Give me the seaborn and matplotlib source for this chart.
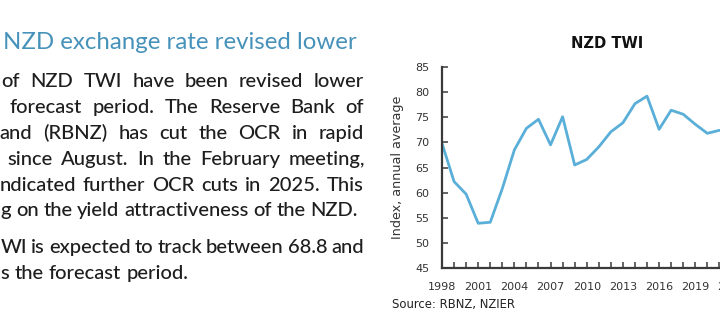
import matplotlib
matplotlib.use("Agg")
import matplotlib.pyplot as plt
import matplotlib.transforms as mtrans
from matplotlib.ticker import MultipleLocator, FixedLocator
import seaborn as sns
import pandas as pd

# ---------------- data ----------------
years = list(range(1998, 2022))
twi = [69.8, 62.2, 59.7, 53.9, 54.1, 60.8, 68.5, 72.8, 74.6, 69.5, 75.1, 65.5,
       66.6, 69.1, 72.1, 73.9, 77.7, 79.2, 72.6, 76.4, 75.6, 73.6, 71.8, 72.4]
x_tick_years = list(range(1998, 2023, 3))
y_ticks = list(range(45, 90, 5))

chart_title = "NZD TWI"
y_label = "Index, annual average"
source_note = "Source: RBNZ, NZIER"

heading = "NZD exchange rate revised lower"
body_lines = [
    "of NZD TWI have been revised lower",
    "forecast period. The Reserve Bank of",
    "and (RBNZ) has cut the OCR in rapid",
    "since August. In the February meeting,",
    "ndicated further OCR cuts in 2025. This",
    "g on the yield attractiveness of the NZD.",
    "WI is expected to track between 68.8 and",
    "s the forecast period.",
]
# layout of the text lines (pixels in image coords): left, right, baseline
body_left = [1.5, 10, -0.5, 7, -0.5, 0.5, 0.5, 0.5]
body_right = [364, 364, 364, 365, 364, 358, 364, 188]
body_base = [87, 113, 139, 165, 191, 216, 253, 279]

# ---------------- figure ----------------
sns.set_theme(style="white")
plt.rcParams["font.family"] = ["DejaVu Sans"]

W, H = 720, 329
fig = plt.figure(figsize=(W / 100, H / 100), dpi=100)
fig.patch.set_facecolor("white")
renderer = fig.canvas.get_renderer()
ident = mtrans.IdentityTransform()

px_per_year = 12.06
ax_left, ax_bottom, ax_top = 442, 268, 67
x_end = 2028
ax = fig.add_axes([ax_left / W, (H - ax_bottom) / H,
                   (x_end - 1998) * px_per_year / W, (ax_bottom - ax_top) / H])

df = pd.DataFrame({"year": years, "twi": twi})
sns.lineplot(data=df, x="year", y="twi", ax=ax, color="#5AAFD8", linewidth=2.0)

ax.set_xlim(1998, x_end)
ax.set_ylim(45, 85)
ax.xaxis.set_major_locator(FixedLocator(x_tick_years))
ax.xaxis.set_minor_locator(MultipleLocator(1))
ax.yaxis.set_major_locator(FixedLocator(y_ticks))
ax.set_xticklabels([str(y) for y in x_tick_years])
ax.set_xlabel("")
ax.set_ylabel("")
spine_c = "#3A3A3A"
for s in ["top", "right"]:
    ax.spines[s].set_visible(False)
for s in ["left", "bottom"]:
    ax.spines[s].set_color(spine_c)
    ax.spines[s].set_linewidth(1.6)
ax.tick_params(axis="both", which="both", direction="in", length=4, width=1.1,
               color=spine_c, labelcolor="#333333", labelsize=8)
ax.tick_params(axis="x", which="both", pad=10, bottom=True)
ax.tick_params(axis="y", which="both", pad=9.2, left=True)
ax.set_facecolor("white")
ax.grid(False)

# chart title, y label, source
fig.text(607 / W, 1 - 43 / H, chart_title, ha="center", va="center",
         fontsize=10.6, fontweight="bold", color="#111111")
fig.text(398 / W, 1 - 167.5 / H, y_label, ha="center", va="center", rotation=90,
         fontsize=9.2, color="#333333")
fig.text(392 / W, 1 - 304.5 / H, source_note, ha="left", va="center",
         fontsize=8.4, color="#222222")

# ---------------- left text ----------------
def width_of(s, **kw):
    t = fig.text(0, 0, s, transform=ident, **kw)
    w = t.get_window_extent(renderer).width
    t.remove()
    return w

def fit_size(s, target, **kw):
    w10 = width_of(s, fontsize=10, **kw)
    return 10 * target / w10

body_family = ["Lato", "DejaVu Sans"]
head_kw = dict(family=body_family)
head_size = fit_size(heading, 354, **head_kw)
fig.text(3, H - 49, heading, transform=ident, ha="left", va="baseline",
         fontsize=head_size, color="#4792BA", **head_kw)

body_kw = dict(family=body_family, fontweight="medium")
body_size = fit_size(body_lines[-1], body_right[-1] - body_left[-1], **body_kw)
text_kw = dict(fontsize=body_size, color="#1E1E1E", **body_kw)


def justify(line, x0, x1, yb):
    """Place the words of one line so that it spans x0..x1 (justified)."""
    words = line.split(" ")
    widths = [width_of(w, **text_kw) for w in words]
    gap = (x1 - x0 - sum(widths)) / max(len(words) - 1, 1)
    x = x0
    for w, wd in zip(words, widths):
        fig.text(x, H - yb, w, transform=ident, ha="left", va="baseline", **text_kw)
        x += wd + gap


for line, l, r, b in zip(body_lines, body_left, body_right, body_base):
    justify(line, l, r, b)

fig.savefig("out.png", dpi=100, facecolor="white")
